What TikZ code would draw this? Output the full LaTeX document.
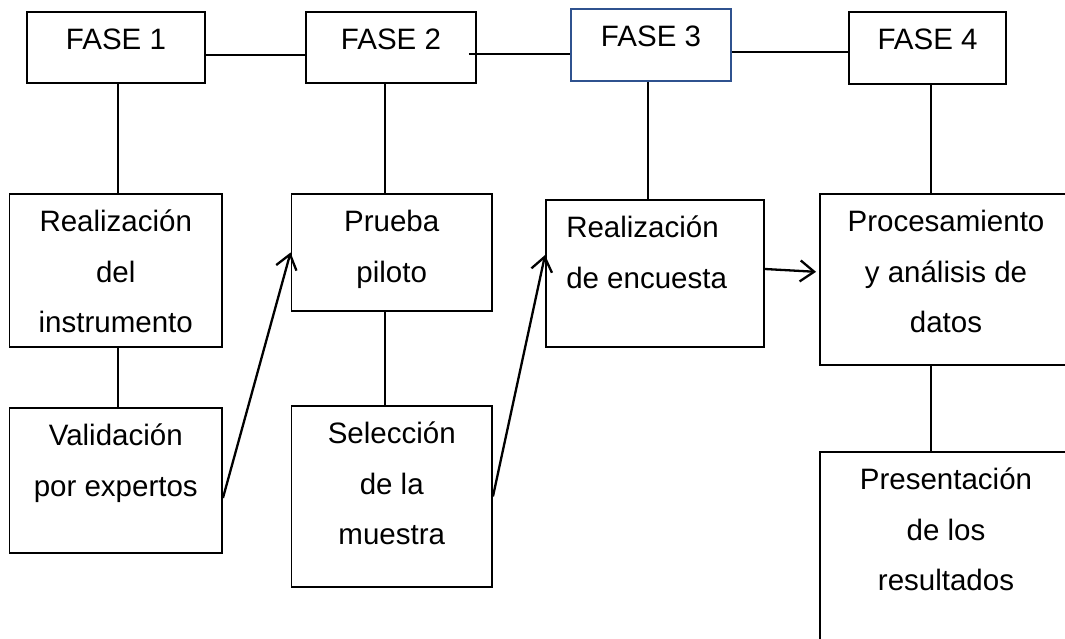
\documentclass[tikz,border=0pt]{standalone}
\usepackage{fontspec}
\setmainfont{Liberation Sans}
\usetikzlibrary{positioning,arrows.meta}
\definecolor{azulfase}{RGB}{47,82,143}

\begin{document}
\begin{tikzpicture}[x=1pt,y=-1pt,
  caja/.style={draw,line width=1.9pt,inner sep=0pt},
  texto/.style={align=center,inner sep=0pt,font=\fontsize{29.5}{50.5}\selectfont},
  linea/.style={line width=1.6pt},
  flecha/.style={line width=2.3pt,-{Straight Barb[length=14pt,width=21pt]}}]
 \useasboundingbox (0,0) rectangle (1065,639);
 \clip (0,0) rectangle (1065,639);
 % fases
 \node[caja,minimum width=178,minimum height=71] (f1) at (116,47.5) {};
 \node[caja,minimum width=170,minimum height=71] (f2) at (391,47.5) {};
 \node[caja,draw=azulfase,minimum width=160,minimum height=72] (f3) at (651,45) {};
 \node[caja,minimum width=157,minimum height=72] (f4) at (927.5,48) {};
 \node[texto,below=3pt of f1.north] {\strut FASE 1};
 \node[texto,below=3pt of f2.north] {\strut FASE 2};
 \node[texto,below=3pt of f3.north] {\strut FASE 3};
 \node[texto,below=3pt of f4.north] {\strut FASE 4};
 % actividades
 \node[caja,minimum width=212.5,minimum height=153] (rinst) at (115.75,270.5) {};
 \node[caja,minimum width=200.5,minimum height=117] (prueba) at (391.75,252.5) {};
 \node[caja,minimum width=218,minimum height=147] (renc) at (655,273.5) {};
 \node[caja,minimum width=252,minimum height=171] (proc) at (946,279.5) {};
 \node[caja,minimum width=212.5,minimum height=145] (vexp) at (115.75,480.5) {};
 \node[caja,minimum width=200.5,minimum height=181] (selec) at (391.75,496.5) {};
 \node[caja,minimum width=252,minimum height=228] (pres) at (946,566) {};
 \node[texto,below=3pt of rinst.north] {\strut Realización\\del\\instrumento};
 \node[texto,below=3pt of prueba.north] {\strut Prueba\\piloto};
 \node[texto,align=left,below right=3pt and 21pt of renc.north west] {\strut Realización\\de encuesta};
 \node[texto,below=3pt of proc.north] {\strut Procesamiento\\y análisis de\\datos};
 \node[texto,below=3pt of vexp.north] {\strut Validación\\por expertos};
 \node[texto,below=3pt of selec.north] {\strut Selección\\de la\\muestra};
 \node[texto,below=3pt of pres.north] {\strut Presentación\\de los\\resultados};
 % uniones
 \draw[linea] ([yshift=-7.5pt]f1.east) -- ([yshift=-7.5pt]f2.west);
 \draw[linea] ([xshift=-8pt,yshift=-6.5pt]f2.east) -- ([yshift=-9pt]f3.west);
 \draw[linea] ([yshift=-7pt]f3.east) -- ([yshift=-4pt]f4.west);
 \coordinate (c1) at ([xshift=2pt]f1.south);
 \coordinate (c2) at ([xshift=-6pt]f2.south);
 \coordinate (c3) at ([xshift=-3pt]f3.south);
 \coordinate (c4) at ([xshift=3.5pt]f4.south);
 \draw[linea] (c1) -- (c1 |- rinst.north);
 \draw[linea] (c2) -- (c2 |- prueba.north);
 \draw[linea] (c3) -- (c3 |- renc.north);
 \draw[linea] (c4) -- (c4 |- proc.north);
 \draw[linea] (c1 |- rinst.south) -- (c1 |- vexp.north);
 \draw[linea] (c2 |- prueba.south) -- (c2 |- selec.north);
 \draw[linea] (c4 |- proc.south) -- (c4 |- pres.north);
 % flechas
 \draw[flecha] ([yshift=-17.5pt]vexp.east) -- (prueba.west);
 \draw[flecha] (selec.east) -- ([yshift=18.5pt]renc.west);
 \draw[flecha,shorten >=3pt] ([yshift=4.5pt]renc.east) -- ([yshift=7.5pt]proc.west);
\end{tikzpicture}
\end{document}
